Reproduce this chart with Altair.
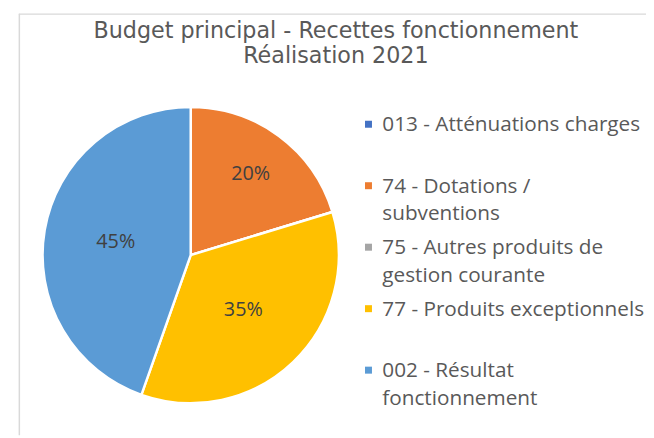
import altair as alt
import pandas as pd

categories = [
    "013 - Atténuations charges",
    "74 - Dotations / subventions",
    "75 - Autres produits de gestion courante",
    "77 - Produits exceptionnels",
    "002 - Résultat fonctionnement",
]
legend_labels = [
    "013 - Atténuations charges",
    "74 - Dotations /\nsubventions",
    "75 - Autres produits de\ngestion courante",
    "77 - Produits exceptionnels",
    "002 - Résultat\nfonctionnement",
]
shares = [0.0, 20.3, 0.0, 35.1, 44.6]
colors = ["#4472C4", "#ED7D31", "#A5A5A5", "#FFC000", "#5B9BD5"]
title_lines = ["Budget principal - Recettes fonctionnement", "Réalisation 2021"]

total = sum(shares)
df = pd.DataFrame({
    "cat": categories,
    "label": legend_labels,
    "value": shares,
    "order": list(range(len(categories))),
    "pct": [f"{round(v / total * 100)}%" for v in shares],
})

CX, CY = 185, 247.5

color = alt.Color("cat:N", scale=alt.Scale(domain=categories, range=colors), legend=None)

pie = alt.Chart(df).mark_arc(radius=150, stroke="white", strokeWidth=2.5).encode(
    theta=alt.Theta("value:Q", stack=True),
    order=alt.Order("order:Q"),
    color=color,
    x=alt.value(CX), y=alt.value(CY),
)

lab_base = alt.Chart(df).transform_window(
    cum="sum(value)", sort=[alt.SortField("order")], frame=[None, 0]
).transform_calculate(mid="datum.cum - datum.value / 2")

lab_small = lab_base.transform_filter("datum.value > 0 && datum.value < 25").mark_text(
    radius=102, font="Open Sans", fontSize=20, color="#404040"
).encode(theta=alt.Theta("mid:Q", stack=None), text="pct:N",
         x=alt.value(CX), y=alt.value(CY))

lab_big = lab_base.transform_filter("datum.value >= 25").mark_text(
    radius=77, font="Open Sans", fontSize=20, color="#404040"
).encode(theta=alt.Theta("mid:Q", stack=None), text="pct:N",
         x=alt.value(CX), y=alt.value(CY))

yleg = alt.Y("cat:N", scale=alt.Scale(domain=categories, range=[115, 364], padding=0), axis=None)

leg_sq = alt.Chart(df).mark_square(size=50, opacity=1).encode(
    x=alt.value(365), y=yleg, color=color
)
leg_tx = alt.Chart(df).mark_text(
    align="left", baseline="alphabetic", dy=7, lineBreak="\n", lineHeight=28,
    font="Open Sans", fontSize=21, color="#595959"
).encode(x=alt.value(379), y=yleg, text="label:N")

title = alt.Chart(pd.DataFrame({"t": ["\n".join(title_lines)]})).mark_text(
    align="center", baseline="alphabetic", lineBreak="\n", lineHeight=25,
    font="DejaVu Sans", fontSize=22.5, color="#595959"
).encode(x=alt.value(332), y=alt.value(28), text="t:N")

one = pd.DataFrame({"a": [0]})
frame_left = alt.Chart(one).mark_rule(color="#D9D9D9", strokeWidth=1.5).encode(
    x=alt.value(11.5), y=alt.value(3), y2=alt.value(430)
)
frame_top = alt.Chart(one).mark_rule(color="#D9D9D9", strokeWidth=1.5).encode(
    x=alt.value(11), x2=alt.value(646), y=alt.value(3.5)
)

chart = alt.layer(
    frame_left, frame_top, pie, lab_small, lab_big, leg_sq, leg_tx, title
).properties(
    width=646, height=430, padding=0, autosize=alt.AutoSizeParams(type="none")
).configure_view(stroke=None)

chart.save("out.html", embed_options={"renderer": "svg", "actions": False})
